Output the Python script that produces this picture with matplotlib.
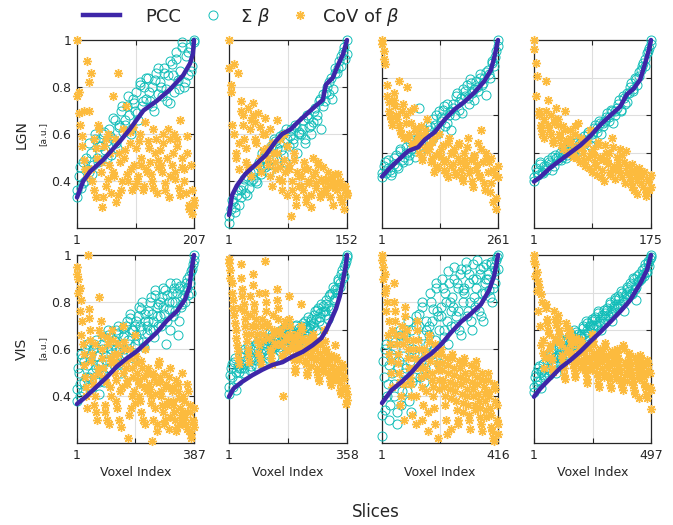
import matplotlib
matplotlib.use("Agg")
import matplotlib.pyplot as plt
from matplotlib.lines import Line2D
import numpy as np

# voxel counts per slice
lgn_n = [207, 152, 261, 175]
vis_n = [387, 358, 416, 497]

# ---- LGN ----
lgn1_pcc_idx = [1, 12, 24, 47, 77, 94, 118, 141, 165, 188, 200, 205, 207]
lgn1_pcc = [0.33, 0.40, 0.44, 0.49, 0.57, 0.62, 0.70, 0.74, 0.79, 0.85, 0.90, 0.94, 1.0]
lgn1_sum = [0.33, 0.42, 0.37, 0.48, 0.40, 0.45, 0.44, 0.52, 0.47, 0.58, 0.50, 0.55,
            0.49, 0.60, 0.53, 0.57, 0.62, 0.51, 0.58, 0.66, 0.54, 0.63, 0.70, 0.61,
            0.64, 0.72, 0.68, 0.60, 0.75, 0.70, 0.78, 0.66, 0.82, 0.72, 0.80, 0.75,
            0.84, 0.74, 0.80, 0.70, 0.86, 0.77, 0.82, 0.76, 0.88, 0.79, 0.85, 0.73,
            0.90, 0.78, 0.95, 0.83, 0.87, 0.99, 0.80, 0.93, 0.85, 0.97, 0.89, 1.00]
lgn1_sum2 = [0.36, 0.46, 0.39, 0.50, 0.56, 0.43, 0.60, 0.48, 0.55, 0.61, 0.50, 0.59,
             0.67, 0.56, 0.64, 0.72, 0.66, 0.76, 0.62, 0.73, 0.69, 0.81, 0.74, 0.84,
             0.78, 0.72, 0.83, 0.88, 0.80, 0.86, 0.74, 0.91, 0.85, 0.92, 0.79, 0.97,
             0.82, 0.95, 0.87, 0.99]
lgn1_cov = [1.00, 0.78, 0.64, 0.55, 0.70, 0.45, 0.91, 0.82, 0.86, 0.40, 0.58, 0.33, 0.50, 0.62,
            0.44, 0.29, 0.55, 0.38, 0.60, 0.47, 0.35, 0.76, 0.42, 0.31, 0.86, 0.52, 0.36, 0.62,
            0.50, 0.72, 0.40, 0.56, 0.45, 0.63, 0.38, 0.54, 0.42, 0.60, 0.47, 0.36, 0.65, 0.44,
            0.57, 0.48, 0.40, 0.62, 0.52, 0.35, 0.46, 0.53, 0.44, 0.60, 0.39, 0.50, 0.33, 0.58,
            0.47, 0.60, 0.41, 0.55, 0.37, 0.66, 0.50, 0.45, 0.35, 0.59, 0.30, 0.47, 0.26, 0.32]
lgn1_cov2 = [0.76, 0.69, 0.59, 0.49, 0.42, 0.70, 0.45, 0.36, 0.54, 0.64,
             0.48, 0.33, 0.58, 0.41, 0.52, 0.44, 0.58, 0.34, 0.48, 0.40,
             0.53, 0.43, 0.61, 0.36, 0.47, 0.40, 0.57, 0.50, 0.38, 0.45,
             0.54, 0.43, 0.37, 0.58, 0.49, 0.47, 0.56, 0.36, 0.62, 0.42,
             0.52, 0.44, 0.58, 0.34, 0.46, 0.40, 0.52, 0.28, 0.36, 0.30]

lgn2_pcc_idx = [1, 5, 11, 22, 35, 48, 61, 69, 80, 89, 102, 112, 121, 125, 134, 140, 147, 152]
lgn2_pcc = [0.255, 0.34, 0.38, 0.43, 0.47, 0.51, 0.57, 0.60, 0.62, 0.65, 0.69, 0.72, 0.745,
            0.81, 0.84, 0.89, 0.94, 1.0]
lgn2_sum = [0.22, 0.28, 0.31, 0.27, 0.34, 0.30, 0.33, 0.38, 0.35, 0.42, 0.37, 0.40,
            0.41, 0.45, 0.39, 0.48, 0.43, 0.50, 0.46, 0.52, 0.44, 0.55, 0.49, 0.57,
            0.50, 0.56, 0.53, 0.60, 0.48, 0.58, 0.55, 0.62, 0.58, 0.64, 0.52, 0.61,
            0.60, 0.66, 0.56, 0.68, 0.63, 0.60, 0.65, 0.71, 0.68, 0.74, 0.62, 0.77,
            0.74, 0.80, 0.77, 0.84, 0.79, 0.88, 0.86, 0.91, 0.89, 0.95, 0.92, 1.00]
lgn2_sum2 = [0.25, 0.32, 0.29, 0.36, 0.36, 0.41, 0.34, 0.44, 0.44, 0.40, 0.47, 0.52,
             0.50, 0.47, 0.54, 0.58, 0.54, 0.59, 0.51, 0.62, 0.59, 0.56, 0.63, 0.60,
             0.62, 0.58, 0.67, 0.64, 0.70, 0.66, 0.75, 0.72, 0.78, 0.82, 0.75, 0.86,
             0.88, 0.93, 0.97, 0.94]
lgn2_cov = [1.00, 0.81, 0.64, 0.90, 0.52, 0.86, 0.45, 0.74, 0.68, 0.58, 0.48, 0.71, 0.62, 0.42,
            0.73, 0.65, 0.56, 0.69, 0.50, 0.44, 0.60, 0.67, 0.54, 0.47, 0.62, 0.38, 0.52, 0.45,
            0.66, 0.41, 0.58, 0.36, 0.49, 0.44, 0.55, 0.47, 0.25, 0.40, 0.52, 0.33, 0.44, 0.38,
            0.42, 0.36, 0.48, 0.31, 0.45, 0.39, 0.34, 0.50, 0.44, 0.37, 0.48, 0.33, 0.41, 0.46,
            0.40, 0.35, 0.44, 0.38, 0.42, 0.30, 0.37, 0.39, 0.43, 0.33, 0.38, 0.28, 0.36, 0.35]
lgn2_cov2 = [0.88, 0.78, 0.60, 0.50, 0.56, 0.70, 0.64, 0.54, 0.46, 0.66,
             0.68, 0.58, 0.47, 0.63, 0.53, 0.60, 0.50, 0.42, 0.56, 0.48,
             0.52, 0.46, 0.40, 0.60, 0.34, 0.45, 0.36, 0.49, 0.30, 0.42,
             0.38, 0.45, 0.33, 0.40, 0.29, 0.42, 0.39, 0.47, 0.35, 0.40,
             0.37, 0.41, 0.33, 0.39, 0.43, 0.36, 0.40, 0.31, 0.38, 0.34]

lgn3_pcc_idx = [1, 15, 37, 60, 82, 97, 119, 141, 163, 185, 208, 230, 245, 252, 261]
lgn3_pcc = [0.273, 0.31, 0.36, 0.41, 0.43, 0.47, 0.51, 0.575, 0.63, 0.67, 0.72, 0.78, 0.84,
            0.90, 1.0]
lgn3_sum = [0.27, 0.33, 0.29, 0.36, 0.31, 0.30, 0.34, 0.39, 0.32, 0.42, 0.36, 0.38,
            0.40, 0.36, 0.46, 0.42, 0.49, 0.38, 0.45, 0.64, 0.42, 0.50, 0.47, 0.54,
            0.52, 0.47, 0.58, 0.55, 0.50, 0.62, 0.57, 0.63, 0.54, 0.66, 0.60, 0.52,
            0.66, 0.60, 0.72, 0.63, 0.69, 0.74, 0.70, 0.76, 0.66, 0.79, 0.72, 0.68,
            0.78, 0.73, 0.82, 0.76, 0.80, 0.71, 0.84, 0.80, 0.89, 0.86, 0.94, 1.00]
lgn3_sum2 = [0.29, 0.35, 0.32, 0.28, 0.37, 0.33, 0.41, 0.35, 0.43, 0.39, 0.47, 0.41,
             0.48, 0.44, 0.52, 0.46, 0.54, 0.49, 0.60, 0.53, 0.59, 0.65, 0.56, 0.62,
             0.64, 0.70, 0.67, 0.61, 0.73, 0.69, 0.77, 0.74, 0.75, 0.80, 0.77, 0.83,
             0.82, 0.88, 0.91, 0.97]
lgn3_cov = [1.00, 0.94, 0.87, 0.76, 0.67, 0.60, 0.55, 0.72, 0.65, 0.58, 0.78, 0.52, 0.62, 0.48,
            0.60, 0.75, 0.50, 0.56, 0.44, 0.64, 0.52, 0.47, 0.40, 0.54, 0.36, 0.49, 0.43, 0.58,
            0.42, 0.35, 0.46, 0.30, 0.39, 0.33, 0.50, 0.38, 0.44, 0.31, 0.36, 0.27, 0.48, 0.40,
            0.34, 0.42, 0.28, 0.37, 0.45, 0.31, 0.25, 0.40, 0.33, 0.48, 0.29, 0.36, 0.22, 0.38,
            0.31, 0.45, 0.27, 0.52, 0.35, 0.20, 0.40, 0.30, 0.19, 0.37, 0.14, 0.28, 0.10, 0.33]
lgn3_cov2 = [0.98, 0.90, 0.70, 0.62, 0.58, 0.68, 0.60, 0.55, 0.50, 0.66,
             0.56, 0.48, 0.62, 0.45, 0.53, 0.50, 0.44, 0.38, 0.52, 0.41,
             0.44, 0.37, 0.48, 0.32, 0.40, 0.42, 0.35, 0.29, 0.45, 0.33,
             0.40, 0.30, 0.44, 0.35, 0.27, 0.36, 0.43, 0.31, 0.25, 0.39,
             0.34, 0.28, 0.42, 0.24, 0.37, 0.35, 0.24, 0.31, 0.16, 0.27]

lgn4_pcc_idx = [1, 10, 25, 40, 55, 70, 85, 100, 115, 129, 139, 149, 159, 167, 172, 175]
lgn4_pcc = [0.247, 0.27, 0.32, 0.36, 0.40, 0.44, 0.49, 0.55, 0.60, 0.645, 0.71, 0.74, 0.79,
            0.885, 0.95, 1.0]
lgn4_sum = [0.25, 0.32, 0.28, 0.35, 0.30, 0.33, 0.31, 0.36, 0.34, 0.38, 0.33, 0.37,
            0.36, 0.40, 0.38, 0.42, 0.37, 0.41, 0.40, 0.44, 0.42, 0.46, 0.41, 0.45,
            0.45, 0.49, 0.47, 0.51, 0.44, 0.50, 0.51, 0.55, 0.53, 0.57, 0.50, 0.56,
            0.57, 0.61, 0.59, 0.63, 0.56, 0.62, 0.64, 0.68, 0.62, 0.70, 0.66, 0.72,
            0.72, 0.77, 0.74, 0.80, 0.76, 0.83, 0.84, 0.88, 0.86, 0.93, 0.96, 1.00]
lgn4_sum2 = [0.27, 0.30, 0.34, 0.29, 0.33, 0.35, 0.31, 0.39, 0.38, 0.36, 0.41, 0.39,
             0.43, 0.40, 0.45, 0.42, 0.47, 0.45, 0.50, 0.48, 0.53, 0.51, 0.56, 0.54,
             0.59, 0.57, 0.62, 0.60, 0.66, 0.63, 0.69, 0.67, 0.75, 0.73, 0.79, 0.81,
             0.86, 0.90, 0.94, 0.98]
lgn4_cov = [1.00, 0.88, 0.81, 0.62, 0.55, 0.50, 0.58, 0.78, 0.68, 0.52, 0.60, 0.47, 0.56, 0.64,
            0.58, 0.50, 0.44, 0.54, 0.62, 0.47, 0.40, 0.52, 0.45, 0.38, 0.50, 0.42, 0.56, 0.35,
            0.48, 0.40, 0.33, 0.45, 0.37, 0.52, 0.30, 0.42, 0.35, 0.28, 0.46, 0.38, 0.31, 0.25,
            0.44, 0.36, 0.40, 0.30, 0.48, 0.33, 0.26, 0.38, 0.32, 0.42, 0.27, 0.35, 0.41, 0.30,
            0.30, 0.25, 0.34, 0.20, 0.28, 0.18, 0.32, 0.27, 0.22, 0.30, 0.17, 0.25, 0.20, 0.28]
lgn4_cov2 = [0.95, 0.70, 0.60, 0.53, 0.48, 0.62, 0.55, 0.50, 0.45, 0.58,
             0.55, 0.48, 0.42, 0.52, 0.46, 0.48, 0.41, 0.54, 0.37, 0.44,
             0.43, 0.36, 0.47, 0.32, 0.40, 0.39, 0.33, 0.44, 0.27, 0.36,
             0.40, 0.34, 0.28, 0.43, 0.31, 0.35, 0.29, 0.39, 0.24, 0.33,
             0.27, 0.22, 0.31, 0.25, 0.29, 0.24, 0.30, 0.19, 0.26, 0.22]

# ---- VIS ----
vis1_pcc_idx = [1, 33, 66, 99, 132, 165, 198, 231, 264, 297, 330, 357, 372, 379, 387]
vis1_pcc = [0.366, 0.40, 0.44, 0.48, 0.525, 0.56, 0.59, 0.63, 0.67, 0.72, 0.76, 0.81, 0.865,
            0.94, 1.0]
vis1_sum = [0.38, 0.52, 0.45, 0.58, 0.42, 0.55, 0.48, 0.62, 0.44, 0.56, 0.50, 0.60, 0.47, 0.64,
            0.53, 0.41, 0.50, 0.60, 0.46, 0.65, 0.55, 0.68, 0.52, 0.58, 0.62, 0.53, 0.68, 0.57,
            0.70, 0.60, 0.50, 0.65, 0.66, 0.58, 0.72, 0.62, 0.75, 0.68, 0.56, 0.70, 0.72, 0.64,
            0.78, 0.68, 0.80, 0.61, 0.75, 0.70, 0.76, 0.68, 0.82, 0.72, 0.65, 0.85, 0.78, 0.70,
            0.80, 0.70, 0.86, 0.75, 0.62, 0.83, 0.77, 0.88, 0.84, 0.74, 0.80, 0.88, 0.66, 0.86,
            0.78, 0.82, 0.85, 0.80, 0.90, 0.83, 0.88, 0.93, 0.96, 1.00]
vis1_sum2 = [0.43, 0.50, 0.40, 0.56, 0.46, 0.60, 0.53, 0.48, 0.58, 0.44, 0.62, 0.52, 0.57, 0.46,
             0.54, 0.62, 0.49, 0.57, 0.66, 0.52, 0.60, 0.56, 0.64, 0.60, 0.67, 0.54, 0.62, 0.69,
             0.60, 0.70, 0.64, 0.73, 0.58, 0.68, 0.62, 0.66, 0.74, 0.70, 0.77, 0.63, 0.72, 0.67,
             0.72, 0.80, 0.75, 0.68, 0.83, 0.74, 0.79, 0.74, 0.82, 0.78, 0.85, 0.72, 0.80, 0.68,
             0.80, 0.86, 0.76, 0.84, 0.72, 0.87, 0.79, 0.83, 0.88, 0.86, 0.91, 0.84, 0.94, 0.98]
vis1_cov = [0.95, 0.90, 0.86, 0.81, 0.72, 0.58, 0.48, 0.40, 1.00,
            0.77, 0.68, 0.55, 0.45, 0.36, 0.62, 0.30, 0.50, 0.82,
            0.72, 0.60, 0.52, 0.33, 0.46, 0.65, 0.28, 0.56, 0.40,
            0.68, 0.58, 0.50, 0.38, 0.62, 0.30, 0.54, 0.44, 0.70,
            0.63, 0.55, 0.47, 0.22, 0.60, 0.35, 0.52, 0.42, 0.66,
            0.57, 0.50, 0.45, 0.38, 0.55, 0.30, 0.48, 0.60, 0.42,
            0.52, 0.45, 0.40, 0.21, 0.50, 0.35, 0.46, 0.28, 0.55,
            0.48, 0.42, 0.36, 0.50, 0.30, 0.45, 0.38, 0.26, 0.52,
            0.44, 0.38, 0.33, 0.47, 0.27, 0.42, 0.35, 0.30, 0.50,
            0.40, 0.33, 0.28, 0.45, 0.25, 0.36, 0.22, 0.30, 0.27]
vis1_cov2 = [0.92, 0.84, 0.76, 0.66, 0.62, 0.53, 0.44, 0.35,
             0.73, 0.64, 0.58, 0.48, 0.40, 0.33, 0.52, 0.68,
             0.66, 0.56, 0.48, 0.36, 0.30, 0.62, 0.44, 0.54,
             0.64, 0.55, 0.47, 0.35, 0.58, 0.42, 0.27, 0.50,
             0.60, 0.52, 0.45, 0.32, 0.56, 0.40, 0.48, 0.37,
             0.54, 0.47, 0.40, 0.33, 0.52, 0.44, 0.28, 0.50,
             0.50, 0.43, 0.37, 0.30, 0.48, 0.41, 0.25, 0.53,
             0.46, 0.40, 0.33, 0.28, 0.44, 0.36, 0.48, 0.31,
             0.42, 0.36, 0.30, 0.25, 0.45, 0.39, 0.32, 0.28,
             0.38, 0.31, 0.26, 0.42, 0.33, 0.24, 0.29, 0.35]

vis2_pcc_idx = [1, 15, 41, 71, 102, 132, 163, 193, 224, 254, 280, 295, 310, 325, 336, 346,
                354, 358]
vis2_pcc = [0.246, 0.29, 0.326, 0.36, 0.39, 0.415, 0.43, 0.46, 0.485, 0.52, 0.557, 0.60,
            0.655, 0.716, 0.78, 0.867, 0.94, 1.0]
vis2_sum = [0.26, 0.36, 0.42, 0.30, 0.45, 0.38, 0.33, 0.40, 0.40, 0.46, 0.37, 0.50, 0.43, 0.48,
            0.39, 0.45, 0.44, 0.50, 0.41, 0.53, 0.47, 0.55, 0.42, 0.49, 0.48, 0.53, 0.45, 0.56,
            0.50, 0.58, 0.46, 0.52, 0.52, 0.57, 0.49, 0.60, 0.55, 0.53, 0.62, 0.50, 0.55, 0.60,
            0.52, 0.58, 0.62, 0.54, 0.57, 0.50, 0.58, 0.62, 0.55, 0.65, 0.60, 0.57, 0.63, 0.66,
            0.62, 0.68, 0.60, 0.71, 0.65, 0.69, 0.63, 0.73, 0.68, 0.74, 0.66, 0.78, 0.71, 0.80,
            0.76, 0.82, 0.80, 0.86, 0.83, 0.90, 0.88, 0.94, 0.97, 1.00]
vis2_sum2 = [0.30, 0.40, 0.35, 0.43, 0.28, 0.41, 0.38, 0.42, 0.48, 0.40, 0.44, 0.52, 0.46, 0.41,
             0.46, 0.52, 0.44, 0.50, 0.56, 0.48, 0.53, 0.50, 0.55, 0.47, 0.59, 0.53, 0.57, 0.51,
             0.55, 0.51, 0.58, 0.54, 0.61, 0.56, 0.52, 0.57, 0.53, 0.60, 0.56, 0.63, 0.58, 0.61,
             0.60, 0.64, 0.58, 0.62, 0.67, 0.61, 0.65, 0.64, 0.70, 0.66, 0.72, 0.67, 0.74, 0.70,
             0.70, 0.76, 0.73, 0.79, 0.72, 0.83, 0.77, 0.82, 0.87, 0.85, 0.92, 0.89, 0.95, 0.99]
vis2_cov = [0.98, 0.92, 0.85, 0.76, 0.68, 0.60, 0.52, 0.45, 0.72,
            0.95, 0.82, 0.74, 0.66, 0.58, 0.50, 0.43, 0.78, 0.62,
            0.90, 0.70, 0.62, 0.55, 0.48, 0.80, 0.42, 0.66, 0.58,
            0.97, 0.75, 0.64, 0.56, 0.50, 0.45, 0.68, 0.60, 0.53,
            0.82, 0.72, 0.60, 0.53, 0.47, 0.25, 0.65, 0.57, 0.50,
            0.78, 0.62, 0.56, 0.50, 0.44, 0.38, 0.58, 0.52, 0.47,
            0.74, 0.60, 0.54, 0.48, 0.42, 0.36, 0.56, 0.50, 0.45,
            0.58, 0.52, 0.46, 0.40, 0.35, 0.54, 0.48, 0.43, 0.38,
            0.60, 0.50, 0.44, 0.38, 0.33, 0.47, 0.41, 0.36, 0.52,
            0.46, 0.40, 0.34, 0.28, 0.42, 0.36, 0.30, 0.21, 0.26]
vis2_cov2 = [0.96, 0.88, 0.80, 0.72, 0.64, 0.56, 0.49, 0.42,
             0.88, 0.78, 0.70, 0.62, 0.54, 0.47, 0.68, 0.58,
             0.84, 0.74, 0.66, 0.58, 0.52, 0.45, 0.62, 0.55,
             0.80, 0.70, 0.62, 0.56, 0.48, 0.42, 0.58, 0.52,
             0.76, 0.66, 0.58, 0.52, 0.45, 0.62, 0.55, 0.49,
             0.66, 0.58, 0.52, 0.46, 0.40, 0.55, 0.50, 0.44,
             0.62, 0.56, 0.50, 0.44, 0.38, 0.53, 0.47, 0.41,
             0.56, 0.50, 0.44, 0.38, 0.33, 0.52, 0.46, 0.40,
             0.54, 0.48, 0.42, 0.36, 0.31, 0.45, 0.39, 0.34,
             0.44, 0.38, 0.32, 0.26, 0.40, 0.34, 0.29, 0.23]

vis3_pcc_idx = [1, 35, 71, 106, 142, 177, 213, 248, 284, 319, 355, 384, 402, 411, 416]
vis3_pcc = [0.37, 0.425, 0.46, 0.50, 0.55, 0.58, 0.62, 0.67, 0.716, 0.75, 0.79, 0.85, 0.91,
            0.965, 1.0]
vis3_sum = [0.23, 0.55, 0.34, 0.62, 0.45, 0.30, 0.58, 0.50, 0.40, 0.63, 0.28, 0.52, 0.68, 0.36,
            0.57, 0.47, 0.66, 0.42, 0.72, 0.55, 0.33, 0.60, 0.48, 0.70, 0.58, 0.75, 0.48, 0.80,
            0.66, 0.52, 0.72, 0.62, 0.70, 0.84, 0.58, 0.77, 0.64, 0.88, 0.74, 0.68, 0.78, 0.90,
            0.65, 0.84, 0.72, 0.93, 0.80, 0.70, 0.82, 0.95, 0.70, 0.88, 0.76, 0.92, 0.66, 0.85,
            0.86, 0.97, 0.74, 0.92, 0.80, 0.68, 0.90, 0.78, 0.90, 0.98, 0.76, 0.94, 0.84, 0.72,
            0.88, 0.96, 0.92, 0.85, 0.97, 0.80, 0.95, 0.88, 0.99, 1.00]
vis3_sum2 = [0.32, 0.48, 0.60, 0.40, 0.53, 0.36, 0.64, 0.45, 0.60, 0.33, 0.55, 0.66, 0.42, 0.50,
             0.52, 0.64, 0.38, 0.68, 0.46, 0.58, 0.74, 0.62, 0.70, 0.55, 0.78, 0.46, 0.68, 0.58,
             0.66, 0.80, 0.72, 0.60, 0.86, 0.76, 0.54, 0.74, 0.86, 0.68, 0.80, 0.62, 0.88, 0.76,
             0.78, 0.90, 0.74, 0.86, 0.68, 0.94, 0.80, 0.84, 0.94, 0.76, 0.88, 0.72, 0.96, 0.82,
             0.86, 0.80, 0.92, 0.74, 0.95, 0.84, 0.90, 0.90, 0.82, 0.96, 0.86, 0.93, 0.98, 0.94]
vis3_cov = [1.00, 0.95, 0.92, 0.86, 0.80, 0.72, 0.62, 0.55, 0.68,
            0.88, 0.76, 0.66, 0.58, 0.50, 0.36, 0.70, 0.62, 0.45,
            0.78, 0.68, 0.60, 0.52, 0.45, 0.32, 0.64, 0.56, 0.40,
            0.72, 0.64, 0.55, 0.48, 0.30, 0.60, 0.52, 0.42, 0.25,
            0.66, 0.58, 0.50, 0.44, 0.35, 0.62, 0.54, 0.22, 0.47,
            0.60, 0.54, 0.47, 0.40, 0.30, 0.56, 0.50, 0.43, 0.26,
            0.58, 0.52, 0.45, 0.38, 0.28, 0.55, 0.48, 0.41, 0.33,
            0.56, 0.50, 0.43, 0.36, 0.30, 0.53, 0.46, 0.40, 0.34,
            0.55, 0.48, 0.41, 0.35, 0.28, 0.50, 0.44, 0.38, 0.31,
            0.50, 0.42, 0.35, 0.27, 0.22, 0.45, 0.38, 0.30, 0.24]
vis3_cov2 = [0.98, 0.90, 0.84, 0.76, 0.66, 0.58, 0.50, 0.44,
             0.80, 0.72, 0.62, 0.54, 0.46, 0.40, 0.66, 0.30,
             0.74, 0.64, 0.56, 0.48, 0.40, 0.60, 0.52, 0.28,
             0.68, 0.60, 0.52, 0.44, 0.36, 0.57, 0.49, 0.33,
             0.63, 0.55, 0.47, 0.40, 0.28, 0.58, 0.51, 0.43,
             0.58, 0.51, 0.44, 0.36, 0.24, 0.53, 0.46, 0.39,
             0.56, 0.49, 0.42, 0.34, 0.30, 0.52, 0.45, 0.37,
             0.54, 0.47, 0.40, 0.32, 0.26, 0.50, 0.43, 0.36,
             0.52, 0.45, 0.38, 0.31, 0.25, 0.47, 0.41, 0.34,
             0.47, 0.40, 0.32, 0.25, 0.21, 0.43, 0.36, 0.28]

vis4_pcc_idx = [1, 28, 70, 113, 155, 197, 240, 282, 325, 367, 409, 452, 480, 497]
vis4_pcc = [0.246, 0.29, 0.344, 0.40, 0.44, 0.486, 0.54, 0.59, 0.645, 0.70, 0.76, 0.85,
            0.92, 1.0]
vis4_sum = [0.27, 0.35, 0.31, 0.40, 0.33, 0.38, 0.42, 0.36, 0.38, 0.44, 0.36, 0.47, 0.41, 0.50,
            0.43, 0.46, 0.46, 0.52, 0.45, 0.55, 0.49, 0.53, 0.48, 0.56, 0.51, 0.57, 0.53, 0.60,
            0.55, 0.50, 0.58, 0.54, 0.56, 0.62, 0.58, 0.65, 0.60, 0.55, 0.63, 0.66, 0.61, 0.67,
            0.63, 0.70, 0.65, 0.60, 0.68, 0.64, 0.66, 0.72, 0.68, 0.75, 0.70, 0.65, 0.73, 0.76,
            0.72, 0.78, 0.74, 0.81, 0.76, 0.70, 0.79, 0.82, 0.78, 0.85, 0.80, 0.88, 0.82, 0.76,
            0.86, 0.90, 0.87, 0.92, 0.89, 0.95, 0.91, 0.97, 0.98, 1.00]
vis4_sum2 = [0.30, 0.37, 0.33, 0.41, 0.29, 0.39, 0.35, 0.40, 0.46, 0.39, 0.48, 0.42, 0.45, 0.37,
             0.47, 0.51, 0.46, 0.54, 0.50, 0.55, 0.47, 0.53, 0.58, 0.52, 0.56, 0.59, 0.54, 0.57,
             0.58, 0.61, 0.57, 0.64, 0.59, 0.62, 0.65, 0.63, 0.66, 0.62, 0.69, 0.64, 0.67, 0.71,
             0.69, 0.71, 0.67, 0.74, 0.69, 0.72, 0.77, 0.74, 0.77, 0.73, 0.80, 0.75, 0.78, 0.83,
             0.81, 0.84, 0.79, 0.87, 0.83, 0.89, 0.86, 0.88, 0.90, 0.93, 0.91, 0.96, 0.94, 0.99]
vis4_cov = [1.00, 0.95, 0.91, 0.86, 0.83, 0.79, 0.75, 0.55, 0.45,
            0.74, 0.66, 0.60, 0.52, 0.46, 0.40, 0.70, 0.56, 0.63,
            0.68, 0.60, 0.54, 0.47, 0.42, 0.36, 0.64, 0.50, 0.57,
            0.60, 0.54, 0.48, 0.42, 0.37, 0.56, 0.45, 0.51, 0.40,
            0.55, 0.50, 0.44, 0.39, 0.34, 0.52, 0.46, 0.41, 0.58,
            0.54, 0.48, 0.43, 0.37, 0.32, 0.50, 0.45, 0.40, 0.35,
            0.53, 0.47, 0.42, 0.36, 0.31, 0.49, 0.44, 0.39, 0.34,
            0.50, 0.45, 0.40, 0.34, 0.30, 0.52, 0.43, 0.38, 0.33,
            0.48, 0.43, 0.38, 0.33, 0.28, 0.46, 0.41, 0.36, 0.24,
            0.47, 0.42, 0.37, 0.32, 0.26, 0.44, 0.39, 0.30, 0.18]
vis4_cov2 = [0.97, 0.89, 0.81, 0.70, 0.62, 0.52, 0.48, 0.40,
             0.72, 0.64, 0.58, 0.50, 0.44, 0.38, 0.66, 0.54,
             0.65, 0.58, 0.52, 0.45, 0.40, 0.34, 0.61, 0.48,
             0.58, 0.52, 0.46, 0.40, 0.35, 0.54, 0.43, 0.49,
             0.53, 0.48, 0.42, 0.37, 0.32, 0.50, 0.44, 0.39,
             0.52, 0.46, 0.41, 0.35, 0.30, 0.48, 0.43, 0.38,
             0.51, 0.45, 0.40, 0.34, 0.29, 0.47, 0.42, 0.37,
             0.48, 0.43, 0.38, 0.32, 0.28, 0.50, 0.41, 0.36,
             0.46, 0.41, 0.36, 0.31, 0.26, 0.44, 0.39, 0.34,
             0.45, 0.40, 0.35, 0.30, 0.24, 0.42, 0.37, 0.28]

yticks = [0.4, 0.6, 0.8, 1]
ytick_labels = ["0.4", "0.6", "0.8", "1"]

# colours (parula-like)
c_pcc = (0.2422, 0.1504, 0.6603)
c_sum = (0.0704, 0.7457, 0.7258)
c_cov = (0.9871, 0.7348, 0.2438)
c_txt = "#262626"

panels = [
    [(lgn_n[0], lgn1_pcc_idx, lgn1_pcc, [lgn1_sum, lgn1_sum2], [lgn1_cov, lgn1_cov2], 0.2),
     (lgn_n[1], lgn2_pcc_idx, lgn2_pcc, [lgn2_sum, lgn2_sum2], [lgn2_cov, lgn2_cov2], 0.2),
     (lgn_n[2], lgn3_pcc_idx, lgn3_pcc, [lgn3_sum, lgn3_sum2], [lgn3_cov, lgn3_cov2], 0.0),
     (lgn_n[3], lgn4_pcc_idx, lgn4_pcc, [lgn4_sum, lgn4_sum2], [lgn4_cov, lgn4_cov2], 0.0)],
    [(vis_n[0], vis1_pcc_idx, vis1_pcc, [vis1_sum, vis1_sum2], [vis1_cov, vis1_cov2], 0.2),
     (vis_n[1], vis2_pcc_idx, vis2_pcc, [vis2_sum, vis2_sum2], [vis2_cov, vis2_cov2], 0.0),
     (vis_n[2], vis3_pcc_idx, vis3_pcc, [vis3_sum, vis3_sum2], [vis3_cov, vis3_cov2], 0.2),
     (vis_n[3], vis4_pcc_idx, vis4_pcc, [vis4_sum, vis4_sum2], [vis4_cov, vis4_cov2], 0.0)],
]

W, H = 673, 525
fig = plt.figure(figsize=(W / 100, H / 100), dpi=100)

col_left = [77, 229, 382, 534]
col_w = [117, 118, 116, 117]
row_top = [40, 255]
ax_h = 188

star = (8, 2, 0)
circ_kw = dict(linestyle="none", marker="o", markersize=6.5, markerfacecolor="none",
               markeredgecolor=c_sum, markeredgewidth=0.7)
star_kw = dict(linestyle="none", marker=star, markersize=6.5, markeredgecolor=c_cov,
               markeredgewidth=1.0)

for r in range(2):
    for c in range(4):
        n, pidx, pval, sums, covs, ymin = panels[r][c]
        ax = fig.add_axes([col_left[c] / W, 1 - (row_top[r] + ax_h) / H,
                           col_w[c] / W, ax_h / H])
        for sval in sums:
            ax.plot(np.linspace(1, n, len(sval)), sval, clip_on=False, zorder=3, **circ_kw)
        for cval in covs:
            ax.plot(np.linspace(1, n, len(cval)), cval, clip_on=False, zorder=4, **star_kw)
        ax.plot(pidx, pval, color=c_pcc, linewidth=3.2, solid_capstyle="round",
                clip_on=False, zorder=5)

        ax.set_xlim(1, n)
        ax.set_ylim(ymin, 1)
        mid = (1 + n) / 2
        ax.set_xticks([1, mid, n])
        ax.set_xticklabels(["1", "", str(n)])
        ax.set_yticks(yticks)
        if c == 0:
            ax.set_yticklabels(ytick_labels)
        else:
            ax.set_yticklabels([])
        ax.grid(True, color="#dedede", linewidth=0.8)
        ax.set_axisbelow(True)
        ax.tick_params(direction="in", top=True, right=True, length=3.5, width=0.8,
                       labelsize=9, colors=c_txt, pad=4)
        for s in ax.spines.values():
            s.set_color(c_txt)
            s.set_linewidth(0.9)
        if r == 1:
            ax.set_xlabel("Voxel Index", fontsize=9, color=c_txt, labelpad=3)

# row labels
fig.text(22 / W, 1 - 135 / H, "LGN", rotation=90, ha="center", va="center",
         fontsize=10, color=c_txt)
fig.text(43 / W, 1 - 134 / H, "[a.u.]", rotation=90, ha="center", va="center",
         fontsize=6.5, color=c_txt)
fig.text(22 / W, 1 - 349 / H, "VIS", rotation=90, ha="center", va="center",
         fontsize=10, color=c_txt)
fig.text(43 / W, 1 - 348 / H, "[a.u.]", rotation=90, ha="center", va="center",
         fontsize=6.5, color=c_txt)

fig.text(376 / W, 1 - 512 / H, "Slices", ha="center", va="center", fontsize=12,
         color=c_txt)

# legend, laid out by hand to follow the reference spacing
ly = 1 - 15 / H
base = 1 - 22.5 / H
fig.add_artist(Line2D([83 / W, 120 / W], [ly, ly], color=c_pcc, linewidth=3.2,
                      transform=fig.transFigure))
fig.add_artist(Line2D([213 / W], [ly], transform=fig.transFigure, **circ_kw))
fig.add_artist(Line2D([300 / W], [ly], transform=fig.transFigure, **star_kw))
fig.text(145 / W, base, "PCC", ha="left", va="baseline", fontsize=13, color=c_txt)
fig.text(240 / W, base, r"$\Sigma\ \beta$", ha="left", va="baseline", fontsize=13,
         color=c_txt)
fig.text(322 / W, base, r"CoV of $\beta$", ha="left", va="baseline", fontsize=13,
         color=c_txt)

fig.savefig("out.png", dpi=100)
